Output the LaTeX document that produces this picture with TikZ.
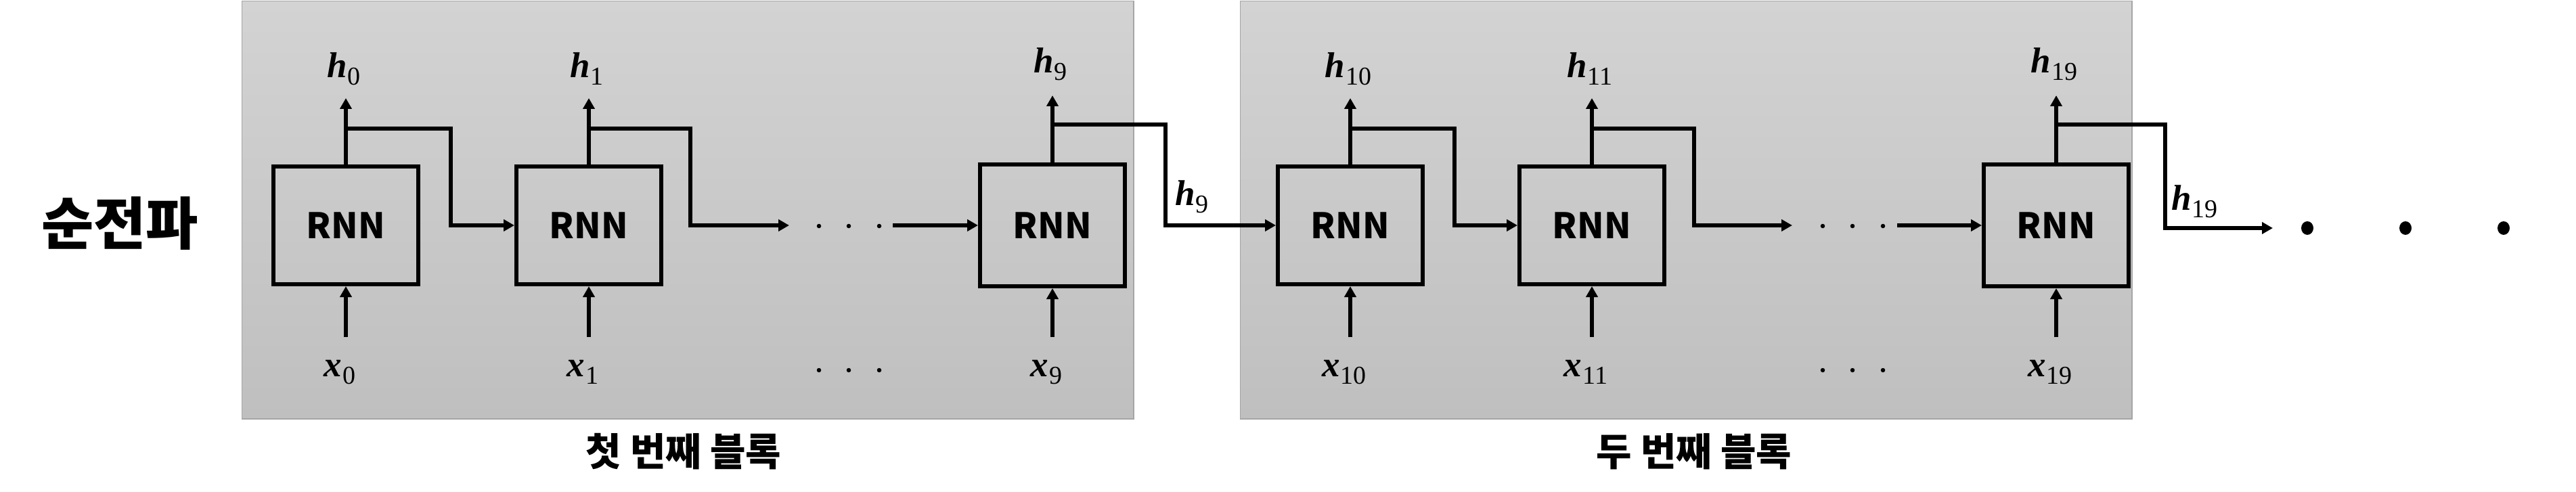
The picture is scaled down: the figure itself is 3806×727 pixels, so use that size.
\documentclass[tikz,border=0pt]{standalone}
\usepackage{fontspec}
\setmainfont{Liberation Serif}
\newfontfamily\kr{Noto Sans CJK KR}
\usetikzlibrary{arrows.meta,shapes.geometric}
\definecolor{blktop}{HTML}{D3D3D3}
\definecolor{blkbot}{HTML}{BFBFBF}
\definecolor{blkborder}{HTML}{A5A5A5}
\newcommand\hv[2]{\textbf{\textit{#1}}\kern1pt{\fontsize{38}{44}\selectfont\raisebox{-11pt}{#2}}}
\tikzset{
  blk/.style={draw=blkborder, line width=1.5pt, top color=blktop, bottom color=blkbot,
    minimum width=1317.5pt, minimum height=617.5pt, inner sep=0pt, anchor=north west},
  cell/.style={draw, line width=6pt, minimum width=214pt, minimum height=174pt, inner sep=0pt,
    font=\kr\bfseries\fontsize{52}{60}\selectfont},
  cellL/.style={cell, minimum height=180pt},
  conn/.style={line width=5.5pt, -{Triangle[width=17pt,length=16pt]}},
  var/.style={font=\fontsize{53}{60}\selectfont, inner sep=0pt, anchor=base},
  sidevar/.style={var, anchor=base west},
  dotS/.style={circle, fill, inner sep=0pt, minimum size=6.5pt},
  dotB/.style={ellipse, fill, inner sep=0pt, minimum width=18pt, minimum height=20pt},
  title/.style={font=\kr\bfseries\fontsize{84}{96}\selectfont, inner sep=0pt},
  blklabel/.style={font=\kr\bfseries\fontsize{57}{64}\selectfont, inner sep=0pt},
}
\begin{document}
\begin{tikzpicture}[x=1pt, y=-1pt]
\useasboundingbox (0,0) rectangle (3806,727);
% blocks
\node[blk] (b1) at (356.75,0.75) {};
\node[blk] (b2) at (1831.75,0.75) {};
\node[title] (fw) at (177,330) {순전파};
\node[blklabel] (l1) at (1010,667) {첫 번째 블록};
\node[blklabel] (l2) at (2503,667) {두 번째 블록};
% cells
\node[cell]  (c0)  at (511,333)  {RNN};
\node[cell]  (c1)  at (870,333)  {RNN};
\node[cellL] (c9)  at (1555,333) {RNN};
\node[cell]  (c10) at (1995,333) {RNN};
\node[cell]  (c11) at (2352,333) {RNN};
\node[cellL] (c19) at (3038,333) {RNN};
% output labels
\node[var] (h0)  at (508,115)  {\hv{h}{0}};
\node[var] (h1)  at (867,115)  {\hv{h}{1}};
\node[var] (h9)  at (1552,108) {\hv{h}{9}};
\node[var] (h10) at (1992,115) {\hv{h}{10}};
\node[var] (h11) at (2349,115) {\hv{h}{11}};
\node[var] (h19) at (3035,108) {\hv{h}{19}};
% input labels
\node[var] (x0)  at (502,556)  {\hv{x}{0}};
\node[var] (x1)  at (861,556)  {\hv{x}{1}};
\node[var] (x9)  at (1546,556) {\hv{x}{9}};
\node[var] (x10) at (1986,556) {\hv{x}{10}};
\node[var] (x11) at (2343,556) {\hv{x}{11}};
\node[var] (x19) at (3029,556) {\hv{x}{19}};
% side labels
\node[sidevar] (s9)  at (1736,304) {\hv{h}{9}};
\node[sidevar] (s19) at (3208,310) {\hv{h}{19}};
% dots
\foreach \n/\px in {a/1210,b/1254,c/1299,d/2693,e/2737,f/2782}{
  \node[dotS] (m\n) at (\px,334) {};
  \node[dotS] (n\n) at (\px,547) {};
}
\node[dotB] (e1) at (3409,337) {};
\node[dotB] (e2) at (3554,337) {};
\node[dotB] (e3) at (3699,337) {};
% free ends
\coordinate (t1) at (1166,333);
\coordinate (t2) at (2648,333);
\coordinate (r1) at (1319,333);
\coordinate (r2) at (2803,333);
\coordinate (t3) at (3358,337);
% output and input arrows
\foreach \c in {c0,c1,c10,c11}{
  \draw[conn] (\c.north) -- (\c.north |- 0,145);
  \draw[conn] (\c.south |- 0,498) -- (\c.south);
}
\foreach \c in {c9,c19}{
  \draw[conn] (\c.north) -- (\c.north |- 0,141);
  \draw[conn] (\c.south |- 0,498) -- (\c.south);
}
% recurrent connections
\draw[conn] (c0.north |- 0,190) -- (666,190) |- (c1.west);
\draw[conn] (c1.north |- 0,190) -- (1020,190) |- (t1);
\draw[conn] (r1) -- (c9.west);
\draw[conn] (c9.north |- 0,184) -- (1722,184) |- (c10.west);
\draw[conn] (c10.north |- 0,190) -- (2149,190) |- (c11.west);
\draw[conn] (c11.north |- 0,190) -- (2503,190) |- (t2);
\draw[conn] (r2) -- (c19.west);
\draw[conn] (c19.north |- 0,184) -- (3199,184) |- (t3);
\end{tikzpicture}
\end{document}
